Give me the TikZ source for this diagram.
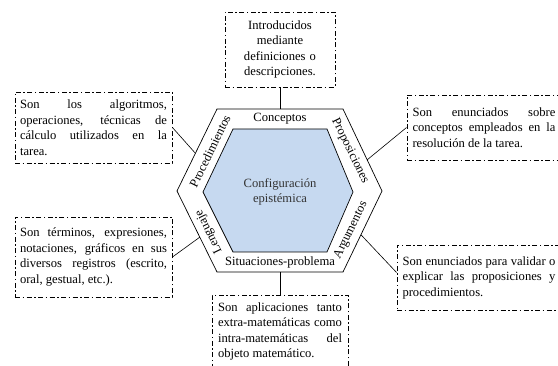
\documentclass[tikz,border=0pt]{standalone}
\usepackage{fontspec}
\setmainfont{Liberation Serif}
\usetikzlibrary{calc}
\newcommand{\notefont}{\fontsize{12.6}{15.5}\selectfont}
\definecolor{epiblue}{RGB}{198,217,240}
\tikzset{
  notebox/.style={draw, line width=0.9pt, dash pattern=on 5pt off 2.5pt on 1.5pt off 2.5pt,
    inner sep=0pt, align=justify, font=\notefont},
  bandlabel/.style={font=\notefont, inner sep=0pt},
}
\begin{document}
\begin{tikzpicture}[x=1pt, y=-1pt]
  \useasboundingbox (0,0) rectangle (558,366);
  % Outer hexagon
  \coordinate (TL) at (217,109); \coordinate (TR) at (343,109);
  \coordinate (R) at (382,191);  \coordinate (BR) at (343,272);
  \coordinate (BL) at (217,272); \coordinate (L) at (177,191);
  \draw[line width=0.7pt] (TL) -- (TR) -- (R) -- (BR) -- (BL) -- (L) -- cycle;
  % Inner hexagon (shaded)
  \filldraw[fill=epiblue, line width=0.7pt] (233,129) -- (327,129) -- (353,192)
    -- (327,252) -- (233,252) -- (203,192) -- cycle;
  \node[font=\notefont, align=center, text=black!80] (config) at (280,192)
    {Configuración\\epistémica};
  % Labels in the band
  \node[bandlabel] (conceptos) at (280,119) {Conceptos};
  \node[bandlabel] (situaciones) at (280,262) {Situaciones-problema};
  \node[bandlabel, rotate=64] (procedimientos) at (210,151) {Procedimientos};
  \node[bandlabel, rotate=-64] (proposiciones) at (350,151) {Proposiciones};
  \node[bandlabel, rotate=64] (argumentos) at (351,230) {Argumentos};
  \node[bandlabel, rotate=116] (lenguaje) at (209,232) {Lenguaje};
  % Description boxes
  \node[notebox, align=center, text width=100pt, minimum width=110pt, minimum height=75pt]
    (tbox) at (280,49.5) {Introducidos\\mediante\\definiciones o\\descripciones.};
  \node[notebox, text width=147pt, minimum width=157pt, minimum height=71pt]
    (ulbox) at (93.5,127.5) {Son los algoritmos,\linebreak operaciones, técnicas de\linebreak
    cálculo utilizados en la\linebreak tarea.};
  \node[notebox, text width=143pt, minimum width=154pt, minimum height=65pt]
    (urbox) at (484,127.5) {Son enunciados sobre\linebreak conceptos empleados en la\linebreak
    resolución de la tarea.};
  \node[notebox, text width=147pt, minimum width=157pt, minimum height=80pt]
    (llbox) at (93.5,257) {Son términos, expresiones,\linebreak notaciones, gráficos en sus\linebreak
    diversos registros (escrito,\linebreak oral, gestual, etc.).};
  \node[notebox, text width=153pt, minimum width=164pt, minimum height=65pt]
    (lrbox) at (479,277.5) {Son enunciados para validar o\linebreak explicar las proposiciones y\linebreak
    procedimientos.};
  \node[notebox, text width=124pt, minimum width=136pt, minimum height=73pt]
    (bbox) at (280,331.5) {Son aplicaciones tanto\linebreak extra-matemáticas como\linebreak
    intra-matemáticas del\linebreak objeto matemático.};
  % Connectors
  \coordinate (ctop) at ($(TL)!0.5!(TR)$);
  \coordinate (cbot) at ($(BL)!0.5!(BR)$);
  \coordinate (cul) at ($(TL)!0.54!(L)$);
  \coordinate (cur) at ($(TR)!0.62!(R)$);
  \coordinate (cll) at ($(L)!0.57!(BL)$);
  \coordinate (clr) at ($(R)!0.54!(BR)$);
  \draw[line width=0.6pt] (tbox.south) -- (ctop);
  \draw[line width=0.6pt] (bbox.north) -- (cbot);
  \draw[line width=0.6pt] (ulbox.east) -- (cul);
  \draw[line width=0.6pt] (urbox.west) -- (cur);
  \draw[line width=0.6pt] (llbox.east) -- (cll);
  \draw[line width=0.6pt] ([yshift=5pt]lrbox.west) -- (clr);
\end{tikzpicture}
\end{document}
